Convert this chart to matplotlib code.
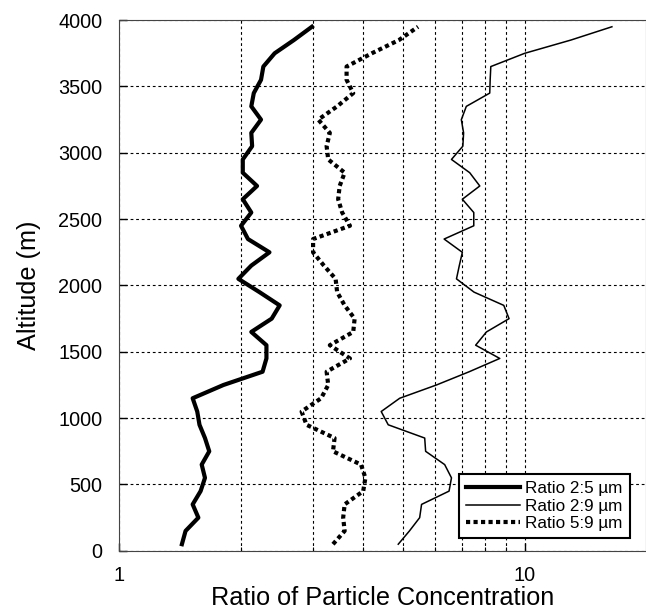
import matplotlib
matplotlib.use("Agg")
import matplotlib.pyplot as plt
from matplotlib.ticker import NullFormatter, FixedLocator, FixedFormatter

plt.rcParams['font.family'] = ['Liberation Sans', 'DejaVu Sans']

altitude = list(range(50, 4000, 100))

ratio_2_5 = [1.43, 1.46, 1.57, 1.52, 1.59, 1.63, 1.60, 1.67, 1.63, 1.58,
             1.56, 1.52, 1.81, 2.26, 2.31, 2.31, 2.12, 2.38, 2.49, 2.22,
             1.97, 2.12, 2.35, 2.08, 2.00, 2.12, 2.02, 2.19, 2.02, 2.02,
             2.13, 2.12, 2.24, 2.12, 2.15, 2.24, 2.27, 2.42, 2.70, 2.99]

ratio_2_9 = [4.88, 5.20, 5.51, 5.57, 6.51, 6.60, 6.35, 5.70, 5.67, 4.61,
             4.43, 4.92, 6.06, 7.30, 8.68, 7.57, 8.05, 9.15, 8.88, 7.50,
             6.79, 6.90, 7.02, 6.33, 7.49, 7.49, 7.02, 7.75, 7.32, 6.60,
             7.04, 7.07, 6.98, 7.18, 8.20, 8.22, 8.25, 10.0, 13.0, 16.4]

ratio_5_9 = [3.37, 3.60, 3.57, 3.60, 4.00, 4.05, 3.95, 3.37, 3.40, 2.90,
             2.82, 3.15, 3.28, 3.25, 3.71, 3.31, 3.78, 3.81, 3.60, 3.45,
             3.42, 3.20, 3.01, 3.01, 3.71, 3.55, 3.47, 3.50, 3.60, 3.28,
             3.25, 3.31, 3.10, 3.45, 3.78, 3.64, 3.64, 4.20, 4.90, 5.46]

fig = plt.figure(figsize=(6.46, 6.10), dpi=100)
ax = fig.add_axes([0.184, 0.097, 0.816, 0.870])

ax.plot(ratio_2_5, altitude, color='black', lw=3.0, label='Ratio 2:5 µm')
ax.plot(ratio_2_9, altitude, color='black', lw=1.1, label='Ratio 2:9 µm')
ax.plot(ratio_5_9, altitude, color='black', lw=3.0, linestyle=(0, (1, 0.8)),
        dash_capstyle='butt', label='Ratio 5:9 µm')

ax.set_xscale('log')
ax.set_xlim(1, 19.9)
ax.set_ylim(0, 4000)
ax.set_yticks(range(0, 4001, 500))
ax.xaxis.set_major_locator(FixedLocator([1, 10]))
ax.xaxis.set_major_formatter(FixedFormatter(['1', '10']))
ax.xaxis.set_minor_locator(FixedLocator([2, 3, 4, 5, 6, 7, 8, 9]))
ax.xaxis.set_minor_formatter(NullFormatter())

ax.grid(True, which='both', axis='x', color='black', lw=0.8, linestyle=(0, (2.5, 2.5)))
ax.grid(True, which='major', axis='y', color='black', lw=0.8, linestyle=(0, (2.5, 2.5)))

ax.tick_params(which='major', direction='in', length=6, width=1, labelsize=14.3, pad=12)
ax.tick_params(which='minor', direction='in', length=3, width=0.8)
ax.tick_params(axis='x', which='major', pad=11)
for s in ax.spines.values():
    s.set_linewidth(0.8)
    s.set_color('#444444')

ax.set_xlabel('Ratio of Particle Concentration', fontsize=18.2, labelpad=1)
ax.set_ylabel('Altitude (m)', fontsize=18.2, labelpad=12)

leg = ax.legend(loc='lower right', bbox_to_anchor=(0.985, 0.008), fontsize=12.3,
                handlelength=3.2, handletextpad=0.3, borderpad=0.4, labelspacing=0.15,
                fancybox=False, framealpha=1, edgecolor='black')
leg.get_frame().set_linewidth(1.5)

fig.savefig('out.png', dpi=100)
